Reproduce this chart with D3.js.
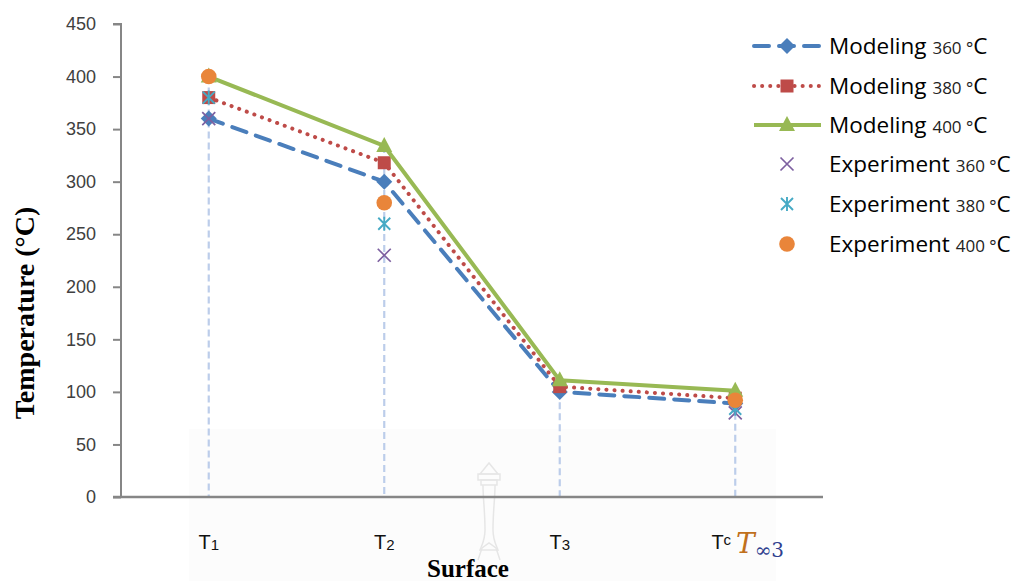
<!DOCTYPE html>
<html>
<head>
<meta charset="utf-8">
<script src="https://cdn.jsdelivr.net/npm/d3@7/dist/d3.min.js"></script>
<style>
  html, body { margin: 0; padding: 0; background: #fff; }
  svg { display: block; }
</style>
</head>
<body>
<svg id="chart" width="1019" height="581"></svg>
<script>
// Temperature at each surface for the three operating temperatures
const categories = ["T1", "T2", "T3", "T4"];
const tickSubs = ["1", "2", "3", "c"];
const yTicks = [0, 50, 100, 150, 200, 250, 300, 350, 400, 450];

const modeling360 = [360, 300, 100, 89];
const modeling380 = [380, 318, 105, 94];
const modeling400 = [400, 334, 111, 101];
const experiment360 = [360, 230, null, 80];
const experiment380 = [380, 260, null, 84];
const experiment400 = [400, 280, null, 92];

const seriesNames = [
  ["Modeling", "360"], ["Modeling", "380"], ["Modeling", "400"],
  ["Experiment", "360"], ["Experiment", "380"], ["Experiment", "400"]
];

const svg = d3.select("#chart");
const W = 1019, H = 581;
const plot = { left: 121, right: 823, top: 24, bottom: 497 };

const x = d3.scaleBand().domain(categories).range([plot.left, plot.right]).padding(0);
const cx = c => x(c) + x.bandwidth() / 2;
const y = d3.scaleLinear().domain([0, 450]).range([plot.bottom, plot.top]);

// faint backdrop panel under the lower part of the plot
svg.append("rect")
  .attr("x", 189).attr("y", 429).attr("width", 587).attr("height", H - 429)
  .attr("fill", "#fcfcfc");

// faint emblem outline
const emb = svg.append("g").attr("fill", "none").attr("stroke", "#e6e6e6").attr("stroke-width", 1.5);
emb.append("path").attr("d", "M489,463 L480,474 L498,474 Z");
emb.append("rect").attr("x", 478).attr("y", 474).attr("width", 22).attr("height", 6);
emb.append("rect").attr("x", 481).attr("y", 480).attr("width", 16).attr("height", 5);
emb.append("path").attr("d", "M483,485 C483,500 485,510 485,530 C485,540 482,545 480,550 L498,550 C496,545 493,540 493,530 C493,510 495,500 495,485");
emb.append("path").attr("d", "M478,560 L482,548 L489,543 L496,548 L500,560");

// category drop lines
const allSeries = [modeling360, modeling380, modeling400, experiment360, experiment380, experiment400];
svg.append("g").selectAll("line")
  .data(categories)
  .join("line")
  .attr("x1", d => cx(d)).attr("x2", d => cx(d))
  .attr("y1", (d, i) => y(d3.max(allSeries, s => s[i])))
  .attr("y2", y(0))
  .attr("stroke", "#bccdea").attr("stroke-width", 2.2)
  .attr("stroke-dasharray", "7,4");

// axes
const yAxis = d3.axisLeft(y).tickValues(yTicks).tickSize(8).tickPadding(17);
const gy = svg.append("g").attr("transform", `translate(${plot.left},0)`).call(yAxis);
gy.select(".domain").attr("stroke", "#868686").attr("stroke-width", 2).attr("d", `M-8,${plot.top}H0V${plot.bottom}`);
gy.selectAll(".tick line").attr("stroke", "#868686").attr("stroke-width", 2);
gy.selectAll(".tick text")
  .attr("font-family", "Liberation Sans, Arial, sans-serif")
  .attr("font-size", 18).attr("fill", "#404040");

svg.append("line")
  .attr("x1", plot.left - 8).attr("x2", plot.right)
  .attr("y1", y(0)).attr("y2", y(0))
  .attr("stroke", "#868686").attr("stroke-width", 2.5);

// category labels
const xl = svg.append("g")
  .attr("font-family", "Liberation Sans, Arial, sans-serif")
  .attr("fill", "#111");
categories.forEach((c, i) => {
  const t = xl.append("text")
    .attr("x", cx(c) - (i === 3 ? 14 : 0)).attr("y", 549)
    .attr("text-anchor", "middle").attr("font-size", 20);
  t.append("tspan").text("T");
  t.append("tspan").text(tickSubs[i]).attr("font-size", 15).attr("dy", i === 3 ? -4 : 1);
});

// T∞3 overlay for the last category
const tinf = svg.append("text")
  .attr("x", 736).attr("y", 553)
  .attr("font-family", "DejaVu Serif, Liberation Serif, serif");
tinf.append("tspan").text("T").attr("font-style", "italic").attr("font-size", 28).attr("fill", "#c0701c");
tinf.append("tspan").text("∞3").attr("font-size", 20).attr("dy", 4).attr("fill", "#2f3f8f");

// axis titles
svg.append("text")
  .attr("transform", "translate(34,313) rotate(-90)")
  .attr("text-anchor", "middle")
  .attr("font-family", "Liberation Serif, Times New Roman, serif")
  .attr("font-weight", "bold").attr("font-size", 28)
  .text("Temperature (°C)");

svg.append("text")
  .attr("x", 468).attr("y", 577)
  .attr("text-anchor", "middle")
  .attr("font-family", "Liberation Serif, Times New Roman, serif")
  .attr("font-weight", "bold").attr("font-size", 25)
  .text("Surface");

// marker drawing helpers
const colors = ["#4a7ebb", "#be4b48", "#98b954", "#7d60a0", "#46aac5", "#e9853a"];

function drawMarker(g, k, px, py) {
  const col = colors[k];
  if (k === 0) {
    const s = 8;
    g.append("path").attr("d", `M${px},${py - s}L${px + s},${py}L${px},${py + s}L${px - s},${py}Z`).attr("fill", col);
  } else if (k === 1) {
    const s = 6.5;
    g.append("rect").attr("x", px - s).attr("y", py - s).attr("width", 2 * s).attr("height", 2 * s).attr("fill", col);
  } else if (k === 2) {
    g.append("path").attr("d", `M${px},${py - 9}L${px + 8},${py + 6}L${px - 8},${py + 6}Z`).attr("fill", col);
  } else if (k === 3) {
    const s = 6.5;
    g.append("path").attr("d", `M${px - s},${py - s}L${px + s},${py + s}M${px - s},${py + s}L${px + s},${py - s}`)
      .attr("stroke", col).attr("stroke-width", 1.7).attr("fill", "none");
  } else if (k === 4) {
    const s = 6;
    g.append("path").attr("d", `M${px - s},${py - s}L${px + s},${py + s}M${px - s},${py + s}L${px + s},${py - s}M${px},${py - s - 1}L${px},${py + s + 1}`)
      .attr("stroke", col).attr("stroke-width", 1.9).attr("fill", "none");
  } else {
    g.append("circle").attr("cx", px).attr("cy", py).attr("r", 7.8).attr("fill", col);
  }
}

const lineStyles = [
  { dash: "15,10", width: 4, cap: "round" },
  { dash: "0.1,8", width: 4, cap: "round" },
  { dash: null, width: 4, cap: "butt" }
];

const line = d3.line().defined(d => d.v != null).x(d => cx(d.c)).y(d => y(d.v));

allSeries.forEach((vals, k) => {
  const g = svg.append("g");
  const pts = categories.map((c, i) => ({ c, v: vals[i] }));
  if (k < 3) {
    const st = lineStyles[k];
    g.append("path").attr("d", line(pts))
      .attr("fill", "none").attr("stroke", colors[k])
      .attr("stroke-width", st.width).attr("stroke-linecap", st.cap)
      .attr("stroke-linejoin", "round")
      .attr("stroke-dasharray", st.dash);
  }
  pts.filter(p => p.v != null).forEach(p => drawMarker(g, k, cx(p.c), y(p.v)));
});

// legend
const legend = svg.append("g");
const rowY = [46, 86, 125, 164, 204, 244];
seriesNames.forEach((nm, k) => {
  const ry = rowY[k];
  const g = legend.append("g");
  if (k < 3) {
    const st = lineStyles[k];
    g.append("line").attr("x1", 754).attr("x2", 821).attr("y1", ry).attr("y2", ry)
      .attr("stroke", colors[k]).attr("stroke-width", st.width)
      .attr("stroke-linecap", st.cap).attr("stroke-dasharray", st.dash);
  }
  drawMarker(g, k, 787, ry);
  const t = g.append("text").attr("x", 829).attr("y", ry + 8)
    .attr("font-family", "Open Sans, Liberation Sans, sans-serif").attr("fill", "#000");
  t.append("tspan").text(nm[0] + " ").attr("font-size", 22.5);
  t.append("tspan").text(nm[1] + " °").attr("font-size", 17).attr("fill", "#222");
  t.append("tspan").text("C").attr("font-size", 22.5);
});
</script>
</body>
</html>
